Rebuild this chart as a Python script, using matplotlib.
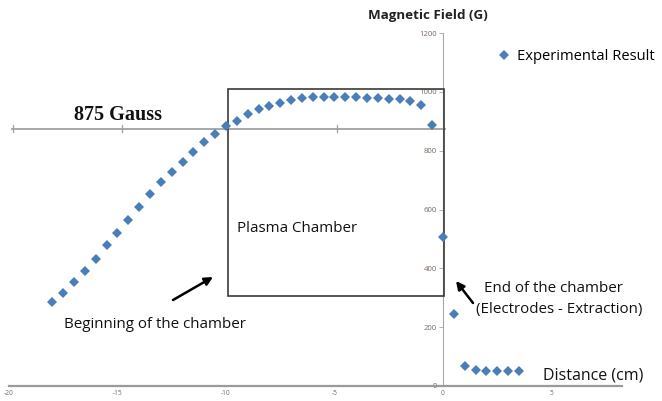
import matplotlib
matplotlib.use("Agg")
import matplotlib.pyplot as plt
from matplotlib.patches import Rectangle
from matplotlib.lines import Line2D

plt.rcParams['axes.unicode_minus'] = False
plt.rcParams['font.family'] = ['Open Sans', 'DejaVu Sans']

# Data
distance_cm = [-18.0, -17.5, -17.0, -16.5, -16.0, -15.5, -15.0, -14.5, -14.0, -13.5,
               -13.0, -12.5, -12.0, -11.5, -11.0, -10.5, -10.0, -9.5, -9.0, -8.5,
               -8.0, -7.5, -7.0, -6.5, -6.0, -5.5, -5.0, -4.5, -4.0, -3.5,
               -3.0, -2.5, -2.0, -1.5, -1.0, -0.5, 0.0, 0.5, 1.0, 1.5,
               2.0, 2.5, 3.0, 3.5]
field_G = [285, 317, 353, 392, 432, 480, 521, 565, 610, 651,
           693, 727, 761, 797, 828, 855, 884, 902, 924, 941,
           953, 962, 973, 979, 981, 983, 983, 983, 983, 980,
           979, 977, 975, 969, 956, 887, 508, 245, 68, 54,
           52, 52, 52, 52]
x_ticks = [-20, -15, -10, -5, 0, 5]
y_ticks = [0, 200, 400, 600, 800, 1000, 1200]
resonance_G = 875
chamber_x = (-9.9, 0.05)
chamber_y = (306, 1010)

W, H = 662, 401
fig = plt.figure(figsize=(W / 100, H / 100), dpi=100)
fig.patch.set_facecolor('white')

def fx(px):
    return px / W

def fy(py):
    return 1 - py / H

ax = fig.add_axes([fx(9), fy(386), fx(622) - fx(9), fy(33) - fy(386)])
ax.set_xlim(-20, 8.25)
ax.set_ylim(0, 1200)

ax.spines['top'].set_visible(False)
ax.spines['right'].set_visible(False)
ax.spines['left'].set_position(('data', 0))
ax.spines['left'].set_color('#a6a6a6')
ax.spines['left'].set_linewidth(0.8)
ax.spines['bottom'].set_color('#9a9a9a')
ax.spines['bottom'].set_linewidth(1.6)

ax.set_xticks(x_ticks)
ax.set_xticklabels([str(v) for v in x_ticks])
ax.set_yticks(y_ticks)
ax.set_yticklabels([str(v) for v in y_ticks])
ax.tick_params(axis='x', length=0, pad=3, labelsize=4.8, labelcolor='#6b6b6b')
ax.tick_params(axis='y', length=3, width=0.6, color='#a6a6a6', pad=1.5,
               labelsize=5.6, labelcolor='#7a6a5e')

# data points
ax.plot(distance_cm, field_G, linestyle='none', marker='D', markersize=5.4,
        color='#4a7ebb', markeredgewidth=0, zorder=5, clip_on=False)

# 875 Gauss line
ax.plot([-19.85, 0.1], [resonance_G, resonance_G], color='#a0a0a0', lw=1.3,
        clip_on=False, zorder=2)
for tx in [-19.8, -14.8, -4.9]:
    ax.plot([tx, tx], [resonance_G - 12, resonance_G + 12], color='#a0a0a0', lw=0.9,
            clip_on=False, zorder=2)

# plasma chamber box
ax.add_patch(Rectangle((chamber_x[0], chamber_y[0]), chamber_x[1] - chamber_x[0],
                       chamber_y[1] - chamber_y[0], fill=False, edgecolor='#3a3a3a',
                       lw=1.2, zorder=3))

# texts
fig.text(fx(118.5), fy(115), '875 Gauss', family='Liberation Serif', weight='bold',
         fontsize=14.5, ha='center', va='center', color='#111111')
body = dict(fontsize=10.9, va='center', color='#111111')
fig.text(fx(237), fy(229), 'Plasma Chamber', ha='left', **body)
fig.text(fx(64), fy(324), 'Beginning of the chamber', ha='left', **body)
fig.text(fx(484), fy(289), 'End of the chamber', ha='left', **body)
fig.text(fx(476), fy(309), '(Electrodes - Extraction)', ha='left', **body)
fig.text(fx(543), fy(376), 'Distance (cm)', ha='left', fontsize=11.5, va='center',
         color='#111111')
fig.text(fx(368), fy(16), 'Magnetic Field (G)', fontsize=9.6, weight='bold', ha='left',
         va='center', color='#222222')

# arrows
ax.annotate('', xy=(fx(213), fy(277)), xytext=(fx(173), fy(300)),
            xycoords='figure fraction', textcoords='figure fraction',
            arrowprops=dict(arrowstyle='-|>', color='black', lw=1.8,
                            mutation_scale=12, shrinkA=0, shrinkB=0))
ax.annotate('', xy=(fx(456), fy(281)), xytext=(fx(473), fy(303)),
            xycoords='figure fraction', textcoords='figure fraction',
            arrowprops=dict(arrowstyle='-|>', color='black', lw=1.8,
                            mutation_scale=12, shrinkA=0, shrinkB=0))

# legend
handle = Line2D([], [], linestyle='none', marker='D', markersize=5.4,
                color='#4a7ebb', markeredgewidth=0)
fig.legend([handle], ['Experimental Result'], loc='center left',
           bbox_to_anchor=(fx(499), fy(57)), frameon=False, fontsize=10.6,
           handlelength=0.7, handletextpad=0.5, borderaxespad=0, borderpad=0)

fig.savefig('out.png', dpi=100, facecolor='white')
